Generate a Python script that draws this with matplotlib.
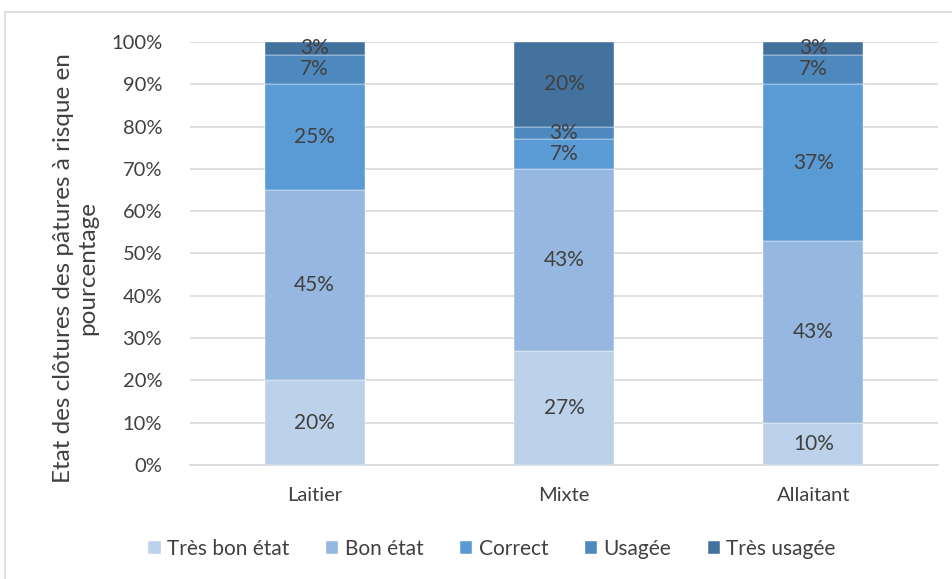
import matplotlib
matplotlib.use("Agg")
import matplotlib.pyplot as plt
from matplotlib.lines import Line2D
import numpy as np

categories = ["Laitier", "Mixte", "Allaitant"]
series_names = ["Très bon état", "Bon état", "Correct", "Usagée", "Très usagée"]
tres_bon = [20, 27, 10]
bon = [45, 43, 43]
correct = [25, 7, 37]
usagee = [7, 3, 7]
tres_usagee = [3, 20, 3]
yticks = [0, 10, 20, 30, 40, 50, 60, 70, 80, 90, 100]

colors = ["#BCD1EA", "#96B7DF", "#5B9BD5", "#4D88BF", "#43729E"]
text_color = "#404040"

plt.rcParams['font.family'] = ['Lato', 'DejaVu Sans']

fig = plt.figure(figsize=(9.53, 5.79), dpi=100)
ax = fig.add_axes([190/953, 1-465/579, (938-190)/953, (465-42)/579])

x = np.arange(len(categories))
bottom = np.zeros(len(categories))
for name, vals, col in zip(series_names, [tres_bon, bon, correct, usagee, tres_usagee], colors):
    vals = np.array(vals, dtype=float)
    ax.bar(x, vals, 0.4, bottom=bottom, color=col, label=name, zorder=3,
           edgecolor="white", linewidth=0.3)
    for xi, b, v in zip(x, bottom, vals):
        ax.text(xi, b + v/2, f"{int(v)}%", ha="center", va="center",
                fontsize=15, color=text_color, zorder=4)
    bottom += vals

ax.set_xlim(-0.5, 2.5)
ax.set_ylim(0, 100)
ax.set_yticks(yticks)
ax.set_yticklabels([f"{t}%" for t in yticks])
ax.set_xticks(x)
ax.set_xticklabels(categories)
ax.tick_params(axis="both", length=0, labelsize=14.5, colors=text_color, pad=20)
ax.tick_params(axis="x", pad=16)
ax.yaxis.grid(True, color="#D9D9D9", linewidth=1.2, zorder=0)
for s in ["top", "right", "left"]:
    ax.spines[s].set_visible(False)
ax.spines["bottom"].set_color("#D9D9D9")
ax.spines["bottom"].set_linewidth(1.2)

fig.text(76/953, 1-268/579, "Etat des clôtures des pâtures à risque en\npourcentage",
         rotation=90, ha="center", va="center", multialignment="center",
         fontsize=17.5, color=text_color, linespacing=1.2)

fig.legend(loc="center", bbox_to_anchor=(492/953, 1-549/579), ncol=5, frameon=False,
           fontsize=15, handlelength=0.6, handleheight=0.6, handletextpad=0.3,
           columnspacing=1.75, labelcolor=text_color)

# outer chart border
fig.add_artist(Line2D([4.5/953, 4.5/953], [0, 1-12/579], color="#D9D9D9", linewidth=1.2,
                      transform=fig.transFigure))
fig.add_artist(Line2D([4.5/953, 1], [1-12/579, 1-12/579], color="#D9D9D9", linewidth=1.2,
                      transform=fig.transFigure))

fig.savefig("out.png", dpi=100)
